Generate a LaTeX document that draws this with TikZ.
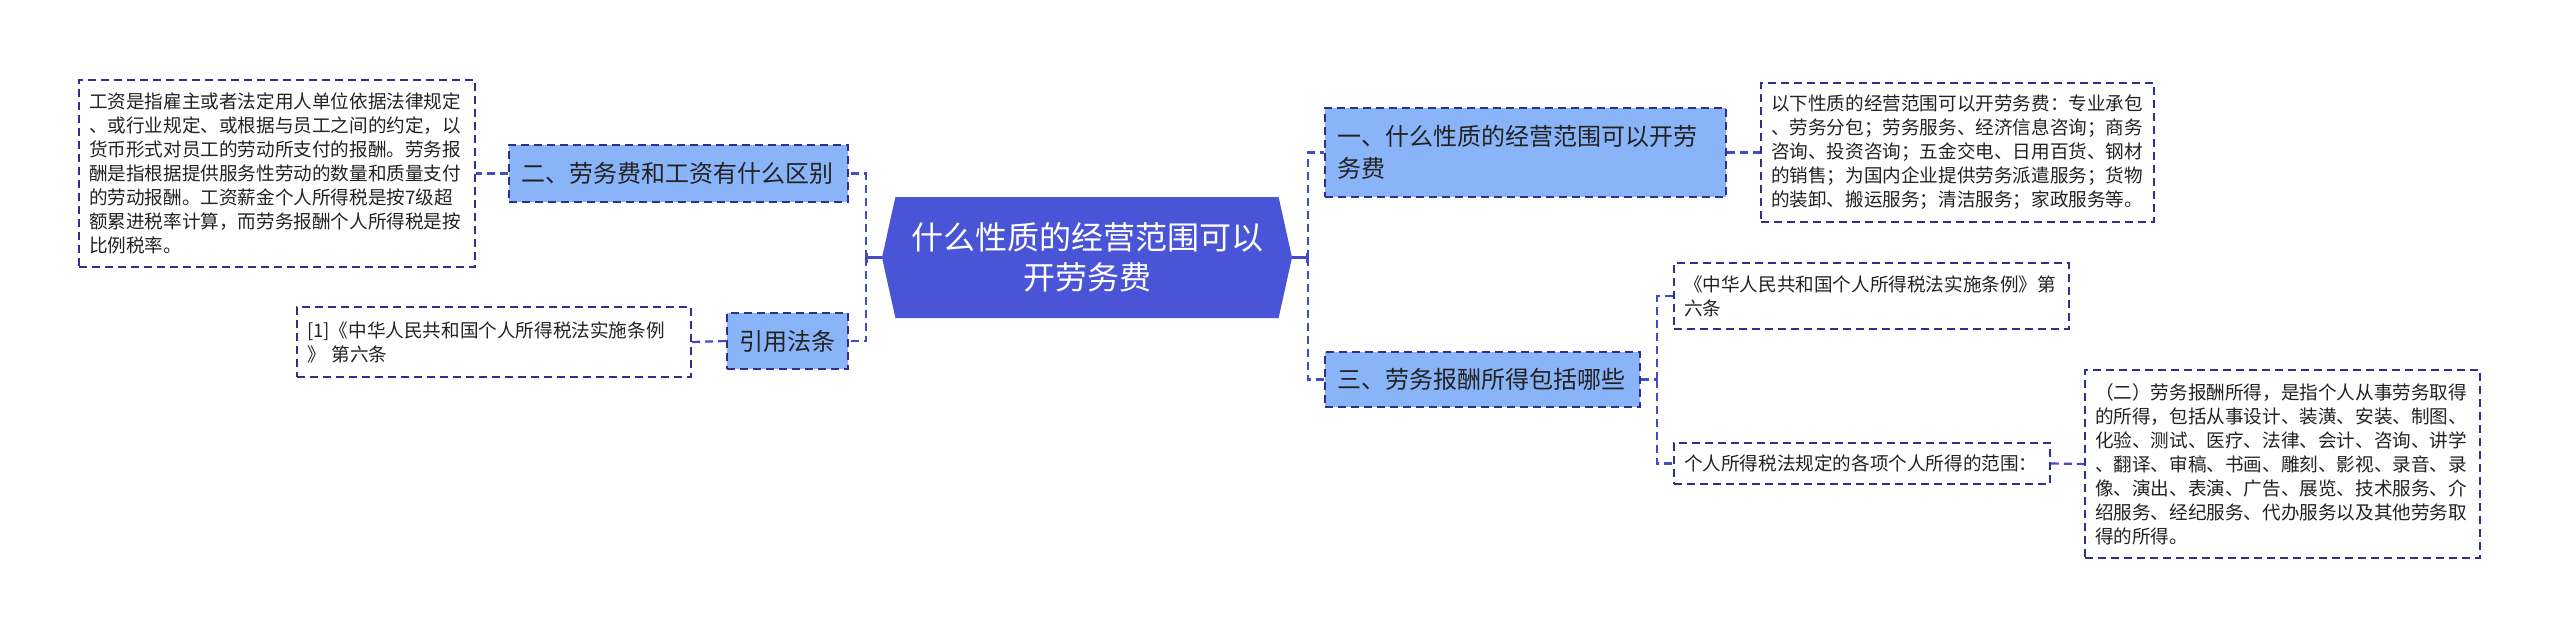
\documentclass[tikz,border=0pt]{standalone}
\usepackage{fontspec}
\setmainfont{Noto Sans CJK SC}
\usetikzlibrary{arrows.meta, positioning, shapes.symbols}
\definecolor{rootblue}{RGB}{74,84,214}
\definecolor{boxblue}{RGB}{138,180,248}
\definecolor{edgenavy}{RGB}{48,48,140}
\definecolor{linkblue}{RGB}{68,76,196}
\definecolor{inktext}{RGB}{34,34,34}

\begin{document}
\begin{tikzpicture}[x=0.5pt, y=-0.5pt,
  rootnode/.style={signal, signal to=west and east, signal pointer angle=155, fill=rootblue, text=white, align=center, font=\fontsize{16pt}{20pt}\selectfont, minimum width=205pt, minimum height=60.5pt, inner sep=0pt},
  topic/.style={draw=edgenavy, fill=boxblue, dash pattern=on 4pt off 2.5pt, line width=0.9pt, text=inktext, align=left, font=\fontsize{12pt}{16pt}\selectfont, inner xsep=6pt, inner ysep=0pt},
  leaf/.style={draw=edgenavy, dash pattern=on 4pt off 2.5pt, line width=0.75pt, text=inktext, align=left, font=\fontsize{9.3pt}{12pt}\selectfont, inner xsep=5pt, inner ysep=0pt},
  link/.style={linkblue, line width=1.1pt, dash pattern=on 4pt off 2.5pt},
  stem/.style={linkblue, line width=1.1pt, -{Bar[width=5pt, line width=1.1pt]}}]
  \useasboundingbox (0,0) rectangle (2560,638);

  \node[rootnode] (root) at (1087,257.5) {什么性质的经营范围可以\\开劳务费};

  \node[topic, text width=157.5pt, minimum height=28.5pt] (er) at (678.5,173.5) {二、劳务费和工资有什么区别};
  \node[topic, text width=48.5pt, minimum height=28pt] (yy) at (787.5,341) {引用法条};
  \node[leaf, text width=188pt, minimum height=93.5pt] (gz) at (277,173.5) {工资是指雇主或者法定用人单位依据法律规定\\、或行业规定、或根据与员工之间的约定，以\\货币形式对员工的劳动所支付的报酬。劳务报\\酬是指根据提供服务性劳动的数量和质量支付\\的劳动报酬。工资薪金个人所得税是按7级超\\额累进税率计算，而劳务报酬个人所得税是按\\比例税率。};
  \node[leaf, text width=187pt, minimum height=35pt] (yyleaf) at (494,342) {[1]《中华人民共和国个人所得税法实施条例\\》 第六条};

  \node[topic, text width=188.5pt, minimum height=44.5pt] (yi) at (1525.5,152.5) {一、什么性质的经营范围可以开劳\\务费};
  \node[leaf, text width=186.5pt, minimum height=69.5pt] (yileaf) at (1957.5,152.5) {以下性质的经营范围可以开劳务费：专业承包\\、劳务分包；劳务服务、经济信息咨询；商务\\咨询、投资咨询；五金交电、日用百货、钢材\\的销售；为国内企业提供劳务派遣服务；货物\\的装卸、搬运服务；清洁服务；家政服务等。};
  \node[topic, text width=145.5pt, minimum height=27.5pt] (san) at (1482.5,379.5) {三、劳务报酬所得包括哪些};
  \node[leaf, text width=187.5pt, minimum height=33pt] (fa) at (1871.5,296) {《中华人民共和国个人所得税法实施条例》第\\六条};
  \node[leaf, text width=178pt, minimum height=20.5pt] (fb) at (1862,463.5) {个人所得税法规定的各项个人所得的范围：};
  \node[leaf, text width=187.5pt, minimum height=94pt] (fc) at (2282.5,464) {（二）劳务报酬所得，是指个人从事劳务取得\\的所得，包括从事设计、装潢、安装、制图、\\化验、测试、医疗、法律、会计、咨询、讲学\\、翻译、审稿、书画、雕刻、影视、录音、录\\像、演出、表演、广告、展览、技术服务、介\\绍服务、经纪服务、代办服务以及其他劳务取\\得的所得。};

  \coordinate (jl) at (866,257.5);
  \coordinate (jr) at (1308,257.5);
  \coordinate (js) at (1657,379.5);

  \draw[stem] (root.west) -- (jl);
  \draw[stem] (root.east) -- (jr);
  \draw[link] (jl) |- (er.east);
  \draw[link] (jl) |- (yy.east);
  \draw[link] (jr) |- (yi.west);
  \draw[link] (jr) |- (san.west);
  \draw[link] (er.west) -- (gz.east);
  \draw[link] (yy.west) -- (yyleaf.east);
  \draw[link] (yi.east) -- (yileaf.west);
  \draw[link] (san.east) -- (js);
  \draw[link] (js) |- (fa.west);
  \draw[link] (js) |- (fb.west);
  \draw[link] (fb.east) -- (fc.west);
\end{tikzpicture}
\end{document}
